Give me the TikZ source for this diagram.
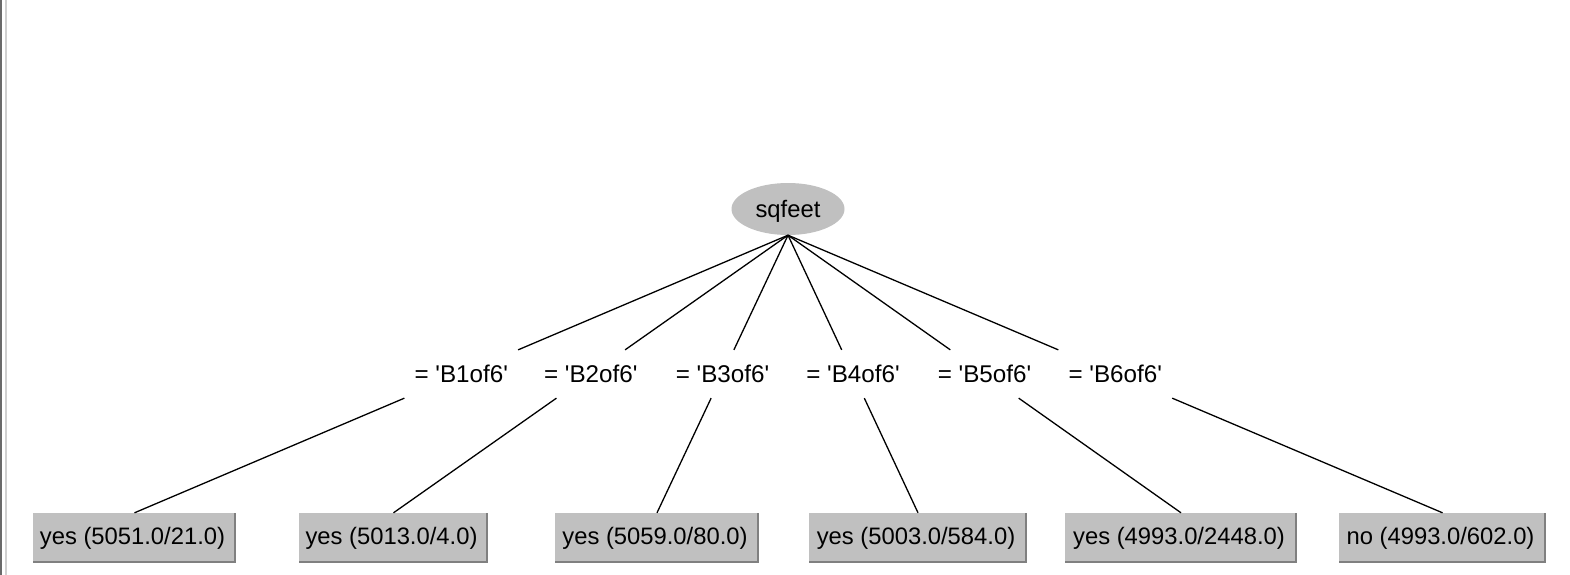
\documentclass[tikz,border=0pt]{standalone}
\usepackage{fontspec}
\newfontfamily\arial{Liberation Sans}
\usetikzlibrary{calc,shapes.geometric}
\definecolor{boxgray}{HTML}{C0C0C0}
\definecolor{shadowgray}{HTML}{808080}
\definecolor{framegray}{HTML}{6A6A6A}
\definecolor{lightline}{HTML}{D0D0D0}
\tikzset{
  rootnode/.style={ellipse, fill=boxgray, inner sep=0pt, minimum width=113pt, minimum height=52pt, text depth=0pt, font=\arial\fontsize{23.8}{26}\selectfont},
  leafbox/.style={rectangle, fill=boxgray, inner sep=0pt, minimum height=50pt, font=\arial\fontsize{23.8}{26}\selectfont,
    execute at end node={\hspace*{4pt}},
    path picture={\draw[line width=2pt, shadowgray]
      ([xshift=-1pt]path picture bounding box.north east) --
      ([xshift=-1pt,yshift=1pt]path picture bounding box.south east) --
      ([yshift=1pt]path picture bounding box.south west);}},
  edgelabel/.style={inner sep=0pt, font=\arial\fontsize{24.2}{26}\selectfont},
  treeedge/.style={line width=1.3pt, black}
}
\begin{document}
\begin{tikzpicture}[x=1pt,y=-1pt]
\useasboundingbox (0,0) rectangle (1570,575);
\fill[white] (0,0) rectangle (1570,575);
% window frame at left
\fill[framegray] (0,0) rectangle (2,575);
\draw[lightline, line width=1.5pt] (6,0) -- (6,575);

\node[rootnode] (root) at (788,209) {sqfeet};

\node[leafbox, minimum width=203pt] (l1) at (134.5,538) {yes (5051.0/21.0)};
\node[leafbox, minimum width=189pt] (l2) at (393.5,538) {yes (5013.0/4.0)};
\node[leafbox, minimum width=204pt] (l3) at (657,538) {yes (5059.0/80.0)};
\node[leafbox, minimum width=218pt] (l4) at (918,538) {yes (5003.0/584.0)};
\node[leafbox, minimum width=232pt] (l5) at (1181,538) {yes (4993.0/2448.0)};
\node[leafbox, minimum width=207pt] (l6) at (1442.5,538) {no (4993.0/602.0)};

\foreach \i in {1,...,6}{
  \draw[treeedge] (root.south) -- ($(root.south)!0.413!(l\i.north)$);
  \draw[treeedge] ($(root.south)!0.587!(l\i.north)$) -- (l\i.north);
  \node[edgelabel] (e\i) at ($(root.south)!0.5!(l\i.north)$) {= \textquotesingle B\i of6\textquotesingle};
}
\end{tikzpicture}
\end{document}
